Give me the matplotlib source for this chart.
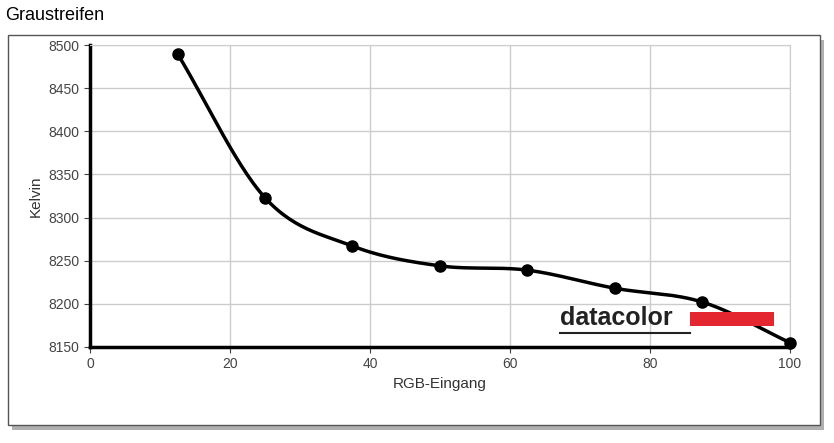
import matplotlib
matplotlib.use("Agg")
import matplotlib.pyplot as plt
import numpy as np
from matplotlib.patches import Rectangle

plt.rcParams['font.family'] = ['Liberation Sans', 'DejaVu Sans']

rgb_input = [12.5, 25, 37.5, 50, 62.5, 75, 87.5, 100]
kelvin = [8490, 8323, 8267, 8244, 8239, 8218, 8202, 8155]
x_ticks = [0, 20, 40, 60, 80, 100]
y_ticks = [8150, 8200, 8250, 8300, 8350, 8400, 8450, 8500]

fig = plt.figure(figsize=(8.34, 4.43), dpi=100)
fig.patches.append(Rectangle((0.014, 0.030), 0.974, 0.88, transform=fig.transFigure,
                             facecolor="#b0b0b0", edgecolor="none", zorder=0))
fig.patches.append(Rectangle((0.0096, 0.041), 0.974, 0.88, transform=fig.transFigure,
                             facecolor="white", edgecolor="#555555", lw=1, zorder=1))
fig.text(0.006, 0.965, "Graustreifen", fontsize=13, ha="left", va="center")

ax = fig.add_axes([0.108, 0.217, 0.839, 0.681])
ax.set_zorder(2)

x = np.array(rgb_input); y = np.array(kelvin)
px = np.concatenate([[2*x[0]-x[1]], x, [2*x[-1]-x[-2]]])
py = np.concatenate([[2*y[0]-y[1]], y, [2*y[-1]-y[-2]]])
sx, sy = [], []
t = np.linspace(0, 1, 30)
for i in range(1, len(px)-2):
    for arr, out in ((px, sx), (py, sy)):
        p0, p1, p2, p3 = arr[i-1:i+3]
        out.extend(0.5*((2*p1) + (-p0+p2)*t + (2*p0-5*p1+4*p2-p3)*t**2 + (-p0+3*p1-3*p2+p3)*t**3))
ax.plot(sx, sy, color="black", lw=2.5, zorder=3, clip_on=False)
ax.plot(x, y, "o", color="black", ms=8, zorder=4, clip_on=False)

ax.set_xlim(0, 100)
ax.set_ylim(8150, 8500)
ax.set_xticks(x_ticks)
ax.set_yticks(y_ticks)
ax.grid(color="#cccccc", lw=1)
ax.set_axisbelow(True)
for s in ("top", "right"):
    ax.spines[s].set_color("#cccccc")
for s in ("left", "bottom"):
    ax.spines[s].set_linewidth(2.5)
ax.tick_params(labelsize=10, colors="#444444", length=4)
ax.set_xlabel("RGB-Eingang", fontsize=11, color="#333333")
ax.set_ylabel("Kelvin", fontsize=11, color="#333333")

ax.text(0.672, 0.095, "datacolor", transform=ax.transAxes, fontsize=18, fontweight="bold",
        color="#222222", ha="left", va="center", zorder=5)
ax.add_patch(Rectangle((0.857, 0.068), 0.121, 0.048, transform=ax.transAxes,
                       facecolor="#e3262f", edgecolor="none", zorder=5))
ax.plot([0.672, 0.857], [0.045, 0.045], transform=ax.transAxes, color="#222222", lw=1.5, zorder=5)

fig.savefig("out.png", dpi=100)
